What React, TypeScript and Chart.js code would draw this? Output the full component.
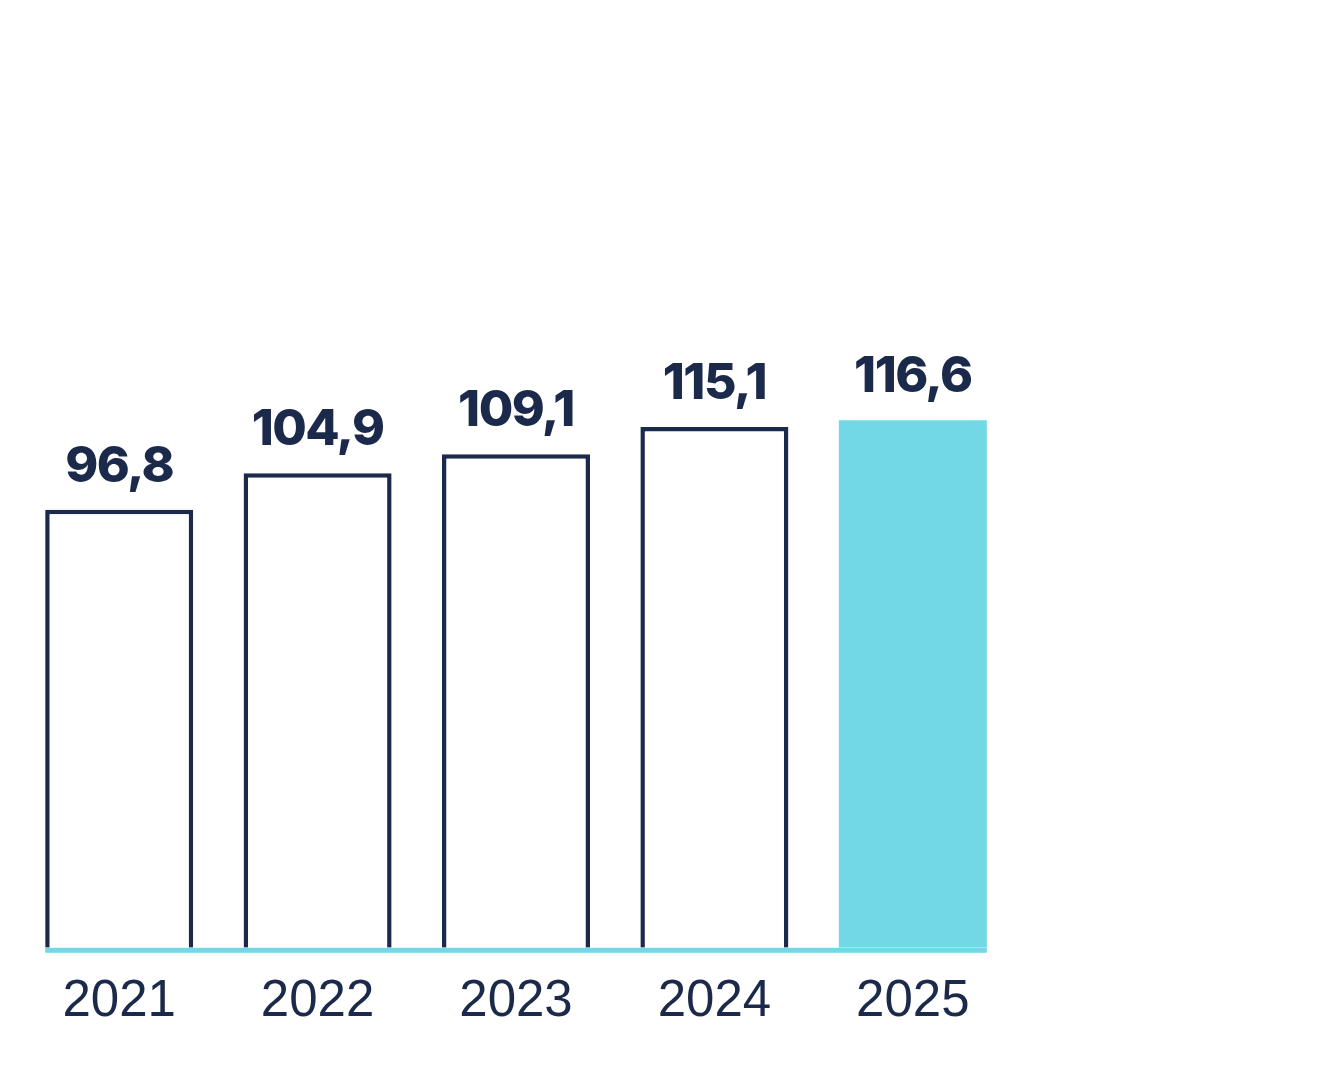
import React, { useEffect, useRef } from 'react';
import { Chart, registerables } from 'chart.js';

Chart.register(...registerables);

const years = ['2021', '2022', '2023', '2024', '2025'];
const values = [96.8, 104.9, 109.1, 115.1, 116.6];
const valueLabels = ['96,8', '104,9', '109,1', '115,1', '116,6'];

const NAVY = '#1b2a4a';
const TEAL = '#72d8e5';

const baselinePlugin = {
  id: 'baseline',
  afterDatasetsDraw(chart: any) {
    const meta = chart.getDatasetMeta(0);
    const first = meta.data[0];
    const last = meta.data[meta.data.length - 1];
    const y0 = chart.scales.y.getPixelForValue(0);
    const ctx = chart.ctx;
    ctx.save();
    ctx.fillStyle = TEAL;
    ctx.fillRect(first.x - first.width / 2, y0, last.x + last.width / 2 - (first.x - first.width / 2), 5);
    ctx.restore();
  },
};

const valueLabelPlugin = {
  id: 'valueLabels',
  afterDatasetsDraw(chart: any) {
    const meta = chart.getDatasetMeta(0);
    const ctx = chart.ctx;
    ctx.save();
    ctx.fillStyle = NAVY;
    ctx.font = '800 50px Inter';
    ctx.textAlign = 'center';
    ctx.textBaseline = 'alphabetic';
    (ctx as any).letterSpacing = '-1.5px';
    meta.data.forEach((bar: any, i: number) => {
      ctx.fillText(valueLabels[i], bar.x, bar.y - 28);
    });
    ctx.restore();
  },
};

export default function App() {
  const canvasRef = useRef<HTMLCanvasElement>(null);

  useEffect(() => {
    document.body.style.margin = '0';
    if (!canvasRef.current) return;
    const chart = new Chart(canvasRef.current, {
      type: 'bar',
      data: {
        labels: years,
        datasets: [
          {
            data: values,
            backgroundColor: values.map((_, i) => (i === values.length - 1 ? TEAL : '#ffffff')),
            borderColor: NAVY,
            borderWidth: values.map((_, i) => (i === values.length - 1 ? 0 : 4.5)),
            barPercentage: 0.746,
            categoryPercentage: 1,
          },
        ],
      },
      options: {
        animation: false,
        responsive: false,
        maintainAspectRatio: false,
        layout: { padding: { left: 20, right: 320, top: 0, bottom: 23 } },
        plugins: {
          legend: { display: false },
          tooltip: { enabled: false },
        },
        scales: {
          x: {
            grid: { display: false, drawTicks: false },
            border: { display: false },
            ticks: {
              color: NAVY,
              font: { family: '"Liberation Sans", Arial, sans-serif', size: 51, weight: 400 },
              padding: 24,
            },
          },
          y: {
            display: false,
            min: 0,
            max: 209.5,
          },
        },
      },
      plugins: [baselinePlugin, valueLabelPlugin],
    });
    return () => chart.destroy();
  }, []);

  return (
    <div style={{ width: 1332, height: 1080, background: '#ffffff' }}>
      <canvas ref={canvasRef} width={1332} height={1080} />
    </div>
  );
}
